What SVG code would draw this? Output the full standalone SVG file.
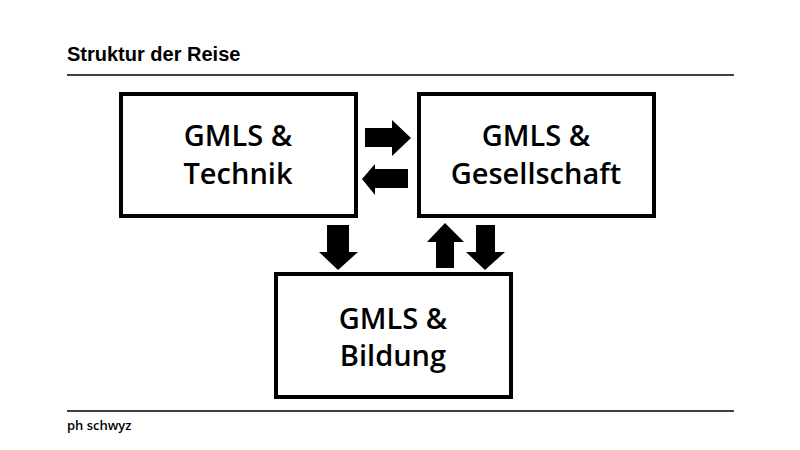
<svg xmlns="http://www.w3.org/2000/svg" width="800" height="450" viewBox="0 0 800 450">
<style>
.box{fill:#fff;stroke:#000;stroke-width:4}
.lbl{font-family:"Open Sans","Lato",sans-serif;font-size:29px;font-weight:600;text-anchor:middle;fill:#000}
.rule{stroke:#000;stroke-width:1.3}
.arr{fill:#000}
</style>
<rect width="800" height="450" fill="#fff"/>
<text x="67" y="61" font-family="Liberation Sans, Arial, sans-serif" font-size="20" font-weight="bold">Struktur der Reise</text>
<line class="rule" x1="67" y1="75" x2="734" y2="75"/>
<line class="rule" x1="67" y1="411" x2="734" y2="411"/>
<text x="67" y="430" font-family="Open Sans, sans-serif" font-size="13" font-weight="600">ph schwyz</text>
<g id="technik">
<rect class="box" x="121" y="94" width="235" height="122"/>
<text class="lbl" x="238" y="146">GMLS &amp;</text>
<text class="lbl" x="238" y="184">Technik</text>
</g>
<g id="gesellschaft">
<rect class="box" x="419" y="94" width="235" height="122"/>
<text class="lbl" x="536" y="146">GMLS &amp;</text>
<text class="lbl" x="536" y="184">Gesellschaft</text>
</g>
<g id="bildung">
<rect class="box" x="276" y="274" width="235" height="123"/>
<text class="lbl" x="393" y="329">GMLS &amp;</text>
<text class="lbl" x="393" y="366">Bildung</text>
</g>
<g id="connectors">
<polygon class="arr" points="365,128 392,128 392,120 411,138 392,156 392,147 365,147"/>
<polygon class="arr" points="408,169 375,169 375,164 362,179 375,195 375,188 408,188"/>
<polygon class="arr" points="327,225 349,225 349,252 358,252 338,270 319,252 327,252"/>
<polygon class="arr" points="436,268 454,268 454,242 464,242 445,223 427,242 436,242"/>
<polygon class="arr" points="476,225 495,225 495,252 505,252 485,270 466,252 476,252"/>
</g>
</svg>
